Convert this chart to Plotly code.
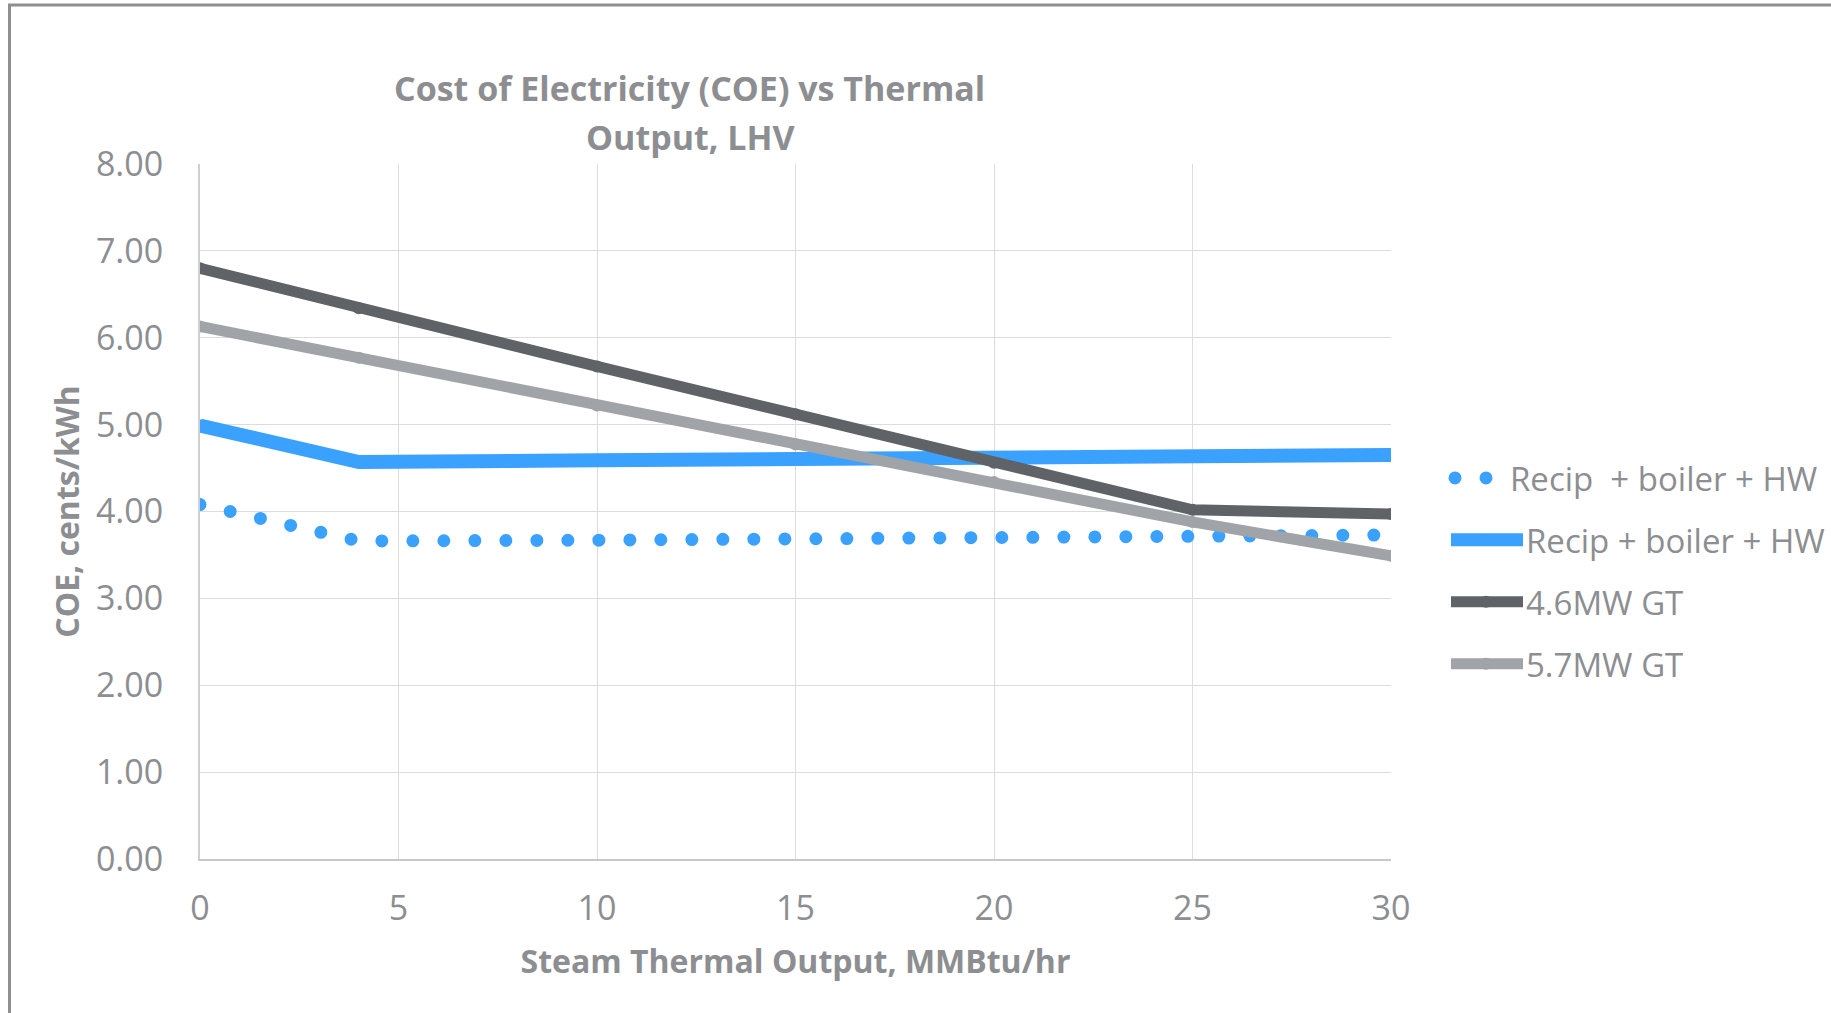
import plotly.graph_objects as go

# ---- data ----
x_vals = [0, 4, 10, 15, 20, 25, 30]
recip_dotted = [4.08, 3.66, 3.67, 3.69, 3.71, 3.72, 3.73]
recip_solid = [4.99, 4.57, 4.59, 4.61, 4.62, 4.64, 4.65]
gt_46 = [6.80, 6.34, 5.67, 5.12, 4.56, 4.02, 3.97]
gt_57 = [6.13, 5.77, 5.22, 4.77, 4.34, 3.88, 3.49]

names = ["Recip  + boiler + HW", "Recip + boiler + HW", "4.6MW GT", "5.7MW GT"]
title_lines = ["Cost of Electricity (COE) vs Thermal", "Output, LHV"]
x_ticks = [0, 5, 10, 15, 20, 25, 30]
y_ticks = [0, 1, 2, 3, 4, 5, 6, 7, 8]
y_tick_labels = ["0.00", "1.00", "2.00", "3.00", "4.00", "5.00", "6.00", "7.00", "8.00"]

BLUE = "#3ba1ff"
DARK = "#5f6368"
LIGHT = "#a0a3a8"
TXT = "#8c8e91"
FONT = "Open Sans"

W, H = 1831, 1013
ML, MR, MT, MB = 200, 440, 164, 154
PW, PH = W - ML - MR, H - MT - MB


def px_x(p):
    return (p - ML) / PW


def px_y(p):
    return (H - MB - p) / PH


fig = go.Figure()
fig.add_trace(go.Scatter(x=x_vals, y=recip_dotted, name=names[0], mode="lines",
                         line=dict(color=BLUE, width=13, dash="0px,31px"),
                         legendgroup="a"))
fig.add_trace(go.Scatter(x=x_vals, y=recip_solid, name=names[1], mode="lines+markers",
                         line=dict(color=BLUE, width=14),
                         marker=dict(color=BLUE, size=12),
                         legendgroup="b"))
fig.add_trace(go.Scatter(x=x_vals, y=gt_46, name=names[2], mode="lines+markers",
                         line=dict(color=DARK, width=11),
                         marker=dict(color=DARK, size=12),
                         legendgroup="c"))
fig.add_trace(go.Scatter(x=x_vals, y=gt_57, name=names[3], mode="lines+markers",
                         line=dict(color=LIGHT, width=11),
                         marker=dict(color=LIGHT, size=12),
                         legendgroup="d"))

fig.update_layout(
    width=W, height=H,
    margin=dict(l=ML, r=MR, t=MT, b=MB, autoexpand=False),
    paper_bgcolor="white", plot_bgcolor="white",
    font=dict(family=FONT, color=TXT, size=30),
    xaxis=dict(range=[0, 30], tickvals=x_ticks, ticktext=[str(v) for v in x_ticks],
               showgrid=True, gridcolor="#dcdcdc", gridwidth=1,
               showline=True, linecolor="#c8c8c8", linewidth=2,
               zeroline=False, ticks="", ticklabelstandoff=18,
               tickfont=dict(family=FONT, size=34, color=TXT),
               title=dict(text="<b>Steam Thermal Output, MMBtu/hr</b>", standoff=22,
                          font=dict(family=FONT, size=32, color=TXT))),
    yaxis=dict(range=[0, 8], tickvals=y_ticks, ticktext=y_tick_labels,
               showgrid=True, gridcolor="#dcdcdc", gridwidth=1,
               showline=True, linecolor="#d0d0d0", linewidth=2,
               zeroline=False, ticks="", ticklabelstandoff=28,
               tickfont=dict(family=FONT, size=34, color=TXT),
               title=dict(text="<b>COE, cents/kWh</b>", standoff=7,
                          font=dict(family=FONT, size=32, color=TXT))),
    legend=dict(x=px_x(1446), xanchor="left", y=px_y(450), yanchor="top",
                font=dict(family=FONT, size=33, color=TXT),
                traceorder="grouped", tracegroupgap=16, itemwidth=70,
                bgcolor="rgba(0,0,0,0)"),
    showlegend=True,
    annotations=[
        dict(text="<b>%s</b>" % title_lines[0], xref="paper", yref="paper",
             x=px_x(689), y=px_y(88), xanchor="center", yanchor="middle",
             showarrow=False, font=dict(family=FONT, size=34, color=TXT)),
        dict(text="<b>%s</b>" % title_lines[1], xref="paper", yref="paper",
             x=px_x(691), y=px_y(137), xanchor="center", yanchor="middle",
             showarrow=False, font=dict(family=FONT, size=34, color=TXT)),
    ],
    shapes=[
        dict(type="line", xref="paper", yref="paper",
             x0=px_x(9.5), x1=px_x(9.5), y0=px_y(5), y1=px_y(H + 5),
             line=dict(color="#8f8f8f", width=3)),
        dict(type="line", xref="paper", yref="paper",
             x0=px_x(8), x1=px_x(W + 5), y0=px_y(5), y1=px_y(5),
             line=dict(color="#8f8f8f", width=3)),
    ],
)

post = """
document.body.style.margin = '0';
document.body.style.overflow = 'hidden';
var gd = document.getElementById('{plot_id}');
function fixup(){
  var tr = gd.querySelectorAll('.scatterlayer .trace');
  if (tr.length) tr[0].querySelectorAll('path.js-line').forEach(function(p){
     p.style.strokeLinecap = 'round'; });
  var lg = gd.querySelectorAll('.legend .traces');
  lg.forEach(function(t, i){
     t.querySelectorAll('path.js-line').forEach(function(p){
        if (i === 0) {
          p.setAttribute('d', 'M9,0h36');
          p.style.strokeLinecap = 'round';
          p.style.strokeWidth = '13px';
        } else {
          p.setAttribute('d', 'M5,0h72');
          p.style.strokeWidth = (i === 1 ? '13px' : '11px');
        }
     });
     if (i === 0) {
       var txt = t.querySelector('text.legendtext');
       if (txt) {
         if (!txt.hasAttribute('data-x0')) txt.setAttribute('data-x0', txt.getAttribute('x'));
         var x0 = parseFloat(txt.getAttribute('data-x0'));
         txt.setAttribute('x', x0 - 16);
       }
     }
  });
}
fixup();
gd.on('plotly_afterplot', fixup);
"""

fig.write_html("out.html", post_script=post, config={"displayModeBar": False})
